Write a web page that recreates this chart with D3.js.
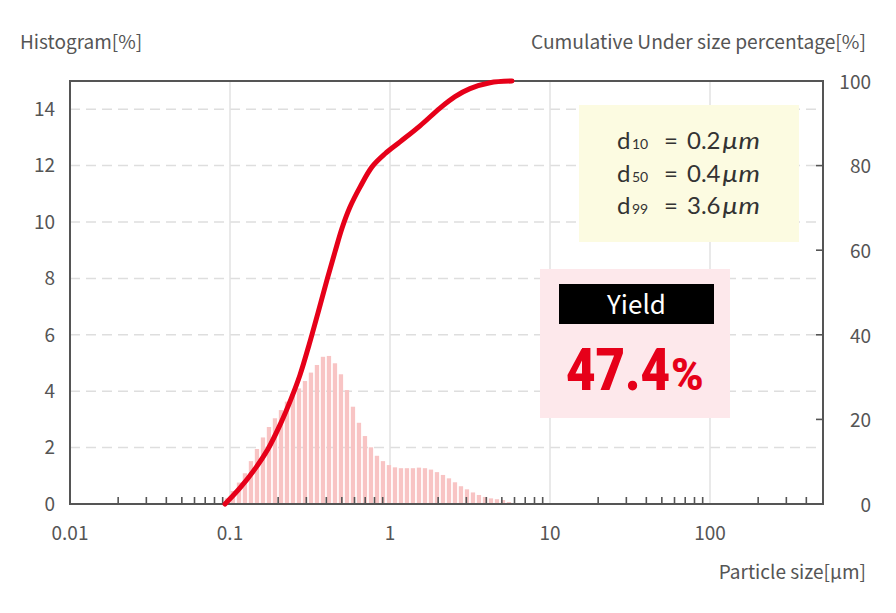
<!DOCTYPE html>
<html><head><meta charset="utf-8">
<script src="https://cdn.jsdelivr.net/npm/d3@7"></script>
<style>
html,body{margin:0;padding:0;background:#fff;}
svg{display:block;}
</style></head>
<body>
<svg id="chart" width="896" height="613"></svg>
<script>
// ---- Data ----
const binSizes = [0.0957,0.1043,0.1138,0.1240,0.1352,0.1474,0.1607,0.1752,0.1910,0.2083,0.2270,0.2475,0.2698,0.2941,0.3206,0.3495,0.3811,0.4154,0.4529,0.4937,0.5383,0.5868,0.6397,0.6974,0.7603,0.8289,0.9036,0.9851,1.074,1.171,1.276,1.391,1.517,1.654,1.803,1.966,2.143,2.336,2.547,2.777,3.027,3.300,3.597,3.922,4.276,4.661,5.082,5.540];
const histValues = [0.20,0.46,0.76,1.09,1.52,1.95,2.36,2.73,3.04,3.33,3.63,3.87,4.10,4.36,4.66,4.93,5.22,5.25,4.99,4.60,4.04,3.45,2.88,2.41,2.01,1.71,1.52,1.38,1.30,1.27,1.27,1.27,1.29,1.27,1.22,1.13,1.03,0.91,0.77,0.63,0.52,0.41,0.32,0.25,0.20,0.17,0.14,0.07];
const cumSizes = [0.0931,0.1155,0.1433,0.1728,0.2054,0.2405,0.2738,0.3118,0.3548,0.4038,0.4530,0.5012,0.5623,0.6494,0.7718,0.9306,1.155,1.540,2.054,2.548,3.162,4.217,5.788];
const cumValues = [0,3.8,8.3,13.0,18.7,24.8,30.5,37.6,45.2,53.0,59.6,65.2,70.2,74.9,79.7,82.8,85.6,89.4,93.6,96.3,98.2,99.6,100];
const xMajorTicks = [0.01,0.1,1,10,100];
const xTickLabels = ["0.01","0.1","1","10","100"];
const leftTicks = [0,2,4,6,8,10,12,14];
const rightTicks = [0,20,40,60,80,100];
const dLabels = ["10","50","99"];
const dValues = ["0.2","0.4","3.6"];
const yieldValue = "47.4";

// ---- Layout ----
const L = 70, R = 823, T = 81, B = 504;
const svg = d3.select("#chart");
const x = d3.scaleLog().domain([0.01, 100]).range([L, 710]);
const yL = d3.scaleLinear().domain([0, 15]).range([B, T]);
const yR = d3.scaleLinear().domain([0, 100]).range([B, T]);
const labelFont = "'Noto Sans CJK JP','Noto Sans',sans-serif";
const gray = "#555";

// minor ticks
const minorTicks = [];
[0.01,0.1,1,10,100].forEach(d => { for (let k=2;k<=9;k++){ const v=d*k; if (x(v) < R-5) minorTicks.push(v);} });

// grid
const grid = svg.append("g");
grid.selectAll("line.h").data(leftTicks.filter(d=>d>0)).join("line")
  .attr("x1", L).attr("x2", R).attr("y1", d=>yL(d)).attr("y2", d=>yL(d))
  .attr("stroke", "#dedede").attr("stroke-width", 1.5).attr("stroke-dasharray", "10,6");
grid.selectAll("line.v").data(xMajorTicks.slice(1)).join("line")
  .attr("x1", d=>x(d)).attr("x2", d=>x(d)).attr("y1", T).attr("y2", B)
  .attr("stroke", "#e2e2e2").attr("stroke-width", 1.5);

// bars
const step = x(binSizes[1]) - x(binSizes[0]);
const bw = step * 0.72;
svg.append("g").selectAll("rect").data(binSizes).join("rect")
  .attr("x", d => x(d) - bw/2)
  .attr("width", bw)
  .attr("y", (d,i) => yL(histValues[i]))
  .attr("height", (d,i) => B - yL(histValues[i]))
  .attr("fill", "#f8c4c4");

// minor ticks on bottom
svg.append("g").selectAll("line").data(minorTicks).join("line")
  .attr("x1", d=>x(d)).attr("x2", d=>x(d)).attr("y1", B).attr("y2", B-7)
  .attr("stroke", gray).attr("stroke-width", 1.6);

// right ticks
svg.append("g").selectAll("line").data(rightTicks.filter(d=>d>0 && d<100)).join("line")
  .attr("x1", R).attr("x2", R-7).attr("y1", d=>yR(d)).attr("y2", d=>yR(d))
  .attr("stroke", gray).attr("stroke-width", 1.6);

// frame
svg.append("rect").attr("x", L).attr("y", T).attr("width", R-L).attr("height", B-T)
  .attr("fill", "none").attr("stroke", gray).attr("stroke-width", 2);

// cumulative curve
const line = d3.line().x(d=>x(d[0])).y(d=>yR(d[1])).curve(d3.curveCatmullRom.alpha(0.5));
svg.append("path").datum(cumSizes.map((s,i)=>[s,cumValues[i]]))
  .attr("d", line).attr("fill","none").attr("stroke","#e60019")
  .attr("stroke-width", 5).attr("stroke-linecap","round");

// tick labels
svg.append("g").selectAll("text").data(leftTicks).join("text")
  .attr("x", 55).attr("y", d=>yL(d)).attr("dy","0.36em").attr("text-anchor","end")
  .attr("font-family", labelFont).attr("font-size", 19).attr("fill", gray).text(d=>d);
svg.append("g").selectAll("text").data(rightTicks).join("text")
  .attr("x", 871).attr("y", d=>yR(d)+1).attr("dy","0.36em").attr("text-anchor","end")
  .attr("font-family", labelFont).attr("font-size", 19).attr("fill", gray).text(d=>d);
svg.append("g").selectAll("text").data(xMajorTicks).join("text")
  .attr("x", d=>x(d)).attr("y", 533).attr("dy","0.36em").attr("text-anchor","middle")
  .attr("font-family", labelFont).attr("font-size", 19).attr("fill", gray).text((d,i)=>xTickLabels[i]);

// axis titles
svg.append("text").attr("x", 20).attr("y", 49).attr("font-family", labelFont).attr("font-size", 19)
  .attr("fill", gray).text("Histogram[%]");
svg.append("text").attr("x", 866).attr("y", 49).attr("text-anchor","end").attr("font-family", labelFont).attr("font-size", 19.2)
  .attr("fill", gray).text("Cumulative Under size percentage[%]");
svg.append("text").attr("x", 866).attr("y", 579).attr("text-anchor","end").attr("font-family", labelFont).attr("font-size", 19)
  .attr("fill", gray).text("Particle size[µm]");

// d-values box
svg.append("rect").attr("x", 579).attr("y", 105).attr("width", 220).attr("height", 137).attr("fill", "#fcfbe1");
const dg = svg.append("g").attr("font-family", "Lato, 'Noto Sans', sans-serif").attr("fill", "#333");
dLabels.forEach((lab, i) => {
  const by = 149 + i*32.5;
  dg.append("text").attr("x", 617).attr("y", by).attr("font-size", 24).text("d");
  dg.append("text").attr("x", 632).attr("y", by).attr("font-size", 14).text(lab);
  dg.append("text").attr("x", 664).attr("y", by).attr("font-size", 24).text("=");
  dg.append("text").attr("x", 687).attr("y", by).attr("font-size", 24).text(dValues[i]);
  dg.append("text").attr("x", 722).attr("y", by).attr("font-size", 24).attr("font-style","italic")
    .attr("textLength", 38).attr("lengthAdjust","spacingAndGlyphs").text("µm");
});

// yield box
svg.append("rect").attr("x", 540).attr("y", 269).attr("width", 190).attr("height", 149).attr("fill", "#fde8eb");
svg.append("rect").attr("x", 559).attr("y", 284).attr("width", 155).attr("height", 40).attr("fill", "#000");
svg.append("text").attr("x", 636.5).attr("y", 314).attr("text-anchor","middle").attr("font-family", labelFont)
  .attr("font-size", 26).attr("fill", "#fff").text("Yield");
const bigFont = "Roboto, 'Noto Sans', sans-serif";
svg.append("text").attr("transform", "translate(566,390) scale(0.85,1)")
  .attr("font-family", bigFont).attr("font-weight", 900)
  .attr("font-size", 60).attr("fill", "#e60019").text(yieldValue);
svg.append("text").attr("x", 671).attr("y", 390).attr("font-family", bigFont).attr("font-weight", 900)
  .attr("font-size", 44).attr("fill", "#e60019").text("%");
</script>
</body></html>
